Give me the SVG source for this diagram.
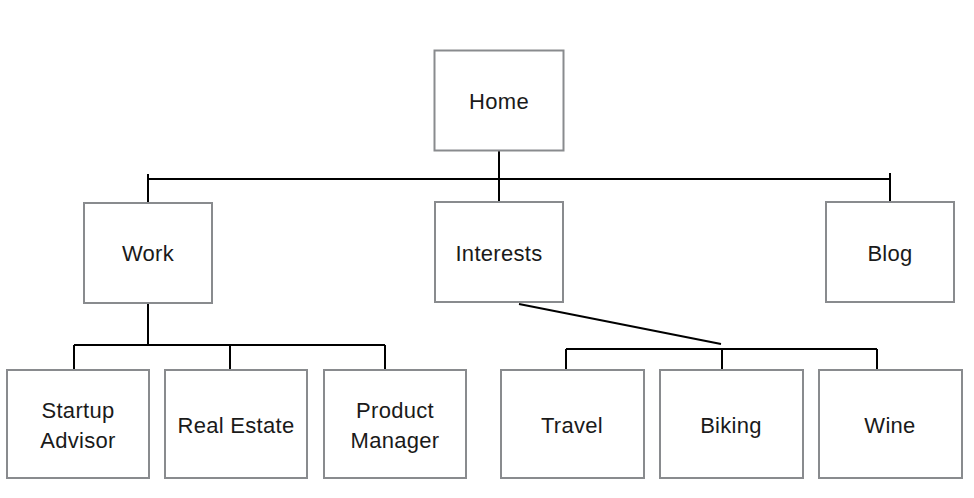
<svg xmlns="http://www.w3.org/2000/svg" width="974" height="498" viewBox="0 0 974 498">
<style>
.box{fill:#fff;stroke:#898b8e;stroke-width:2}
.lbl{font-family:"Liberation Sans",Arial,sans-serif;font-size:22px;letter-spacing:0.3px;fill:#1a1a1a;text-anchor:middle}
.c{stroke:#000;stroke-width:2;fill:none}
</style>
<rect width="974" height="498" fill="#fff"/>
<g id="connectors">
<path class="c" d="M499 151V179M148 179H890M148 174V203M499 179V202M890 173V202"/>
<path class="c" d="M148 303V345M74 345H385M74 345V370M230 345V370M385 345V370"/>
<path class="c" d="M519 304L721 344M566 349H877M566 349V370M722 349V370M877 349V370"/>
</g>
<g id="home"><rect class="box" x="434.5" y="50.5" width="129" height="100"/><text class="lbl" x="499" y="109">Home</text></g>
<g id="work"><rect class="box" x="84" y="203" width="128" height="100"/><text class="lbl" x="148" y="261">Work</text></g>
<g id="interests"><rect class="box" x="435" y="202" width="128" height="100"/><text class="lbl" x="499" y="261">Interests</text></g>
<g id="blog"><rect class="box" x="826" y="202" width="128" height="100"/><text class="lbl" x="890" y="261">Blog</text></g>
<g id="startup"><rect class="box" x="7" y="370" width="142" height="108"/><text class="lbl" x="78" y="418">Startup</text><text class="lbl" x="78" y="448">Advisor</text></g>
<g id="realestate"><rect class="box" x="165" y="370" width="142" height="108"/><text class="lbl" x="236" y="433">Real Estate</text></g>
<g id="product"><rect class="box" x="324" y="370" width="142" height="108"/><text class="lbl" x="395" y="418">Product</text><text class="lbl" x="395" y="448">Manager</text></g>
<g id="travel"><rect class="box" x="501" y="370" width="143" height="108"/><text class="lbl" x="572" y="433">Travel</text></g>
<g id="biking"><rect class="box" x="660" y="370" width="143" height="108"/><text class="lbl" x="731" y="433">Biking</text></g>
<g id="wine"><rect class="box" x="819" y="370" width="143" height="108"/><text class="lbl" x="890" y="433">Wine</text></g>
</svg>
